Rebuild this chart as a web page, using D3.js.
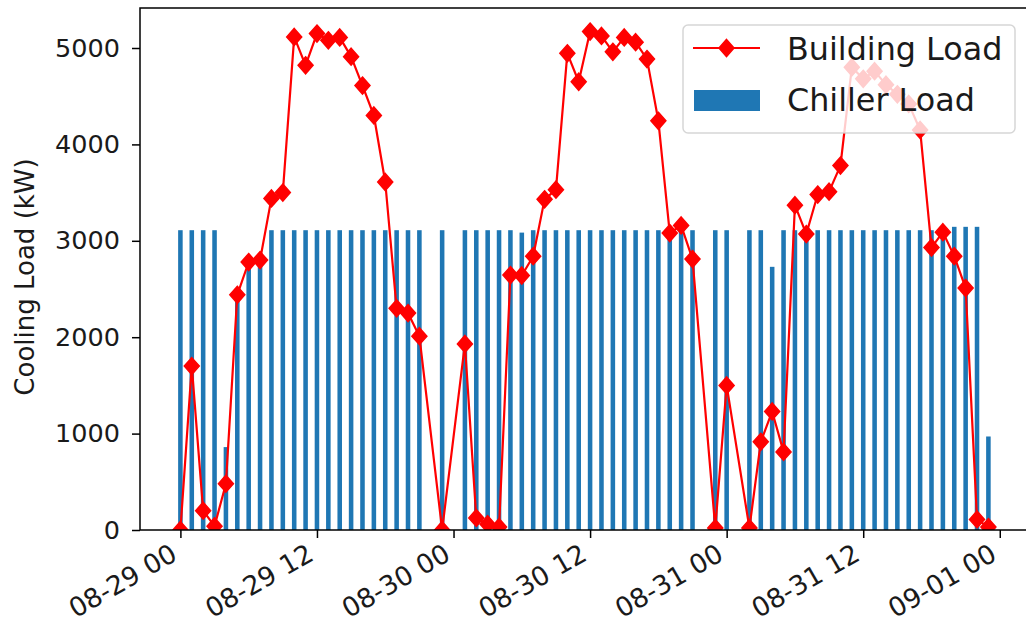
<!DOCTYPE html>
<html lang="en"><head>
<meta charset="utf-8">
<title>Cooling Load</title>
<script src="https://cdn.jsdelivr.net/npm/d3@7"></script>
<style>
body { margin: 0; background: #fff; }
text { font-family: "DejaVu Sans", sans-serif; }
</style>
</head>
<body>
<script>

var width = 1026;
var height = 629;

// first timestamp of the record; hours below are offsets from it
var startTime = "2019-08-29 00:00";

// hourly records (hours 22, 24, 46 and 49 are missing in the data)
var hours = [0, 1, 2, 3, 4, 5, 6, 7, 8, 9, 10, 11, 12, 13, 14, 15, 16, 17, 18, 19, 20, 21,
             23, 25, 26, 27, 28, 29, 30, 31, 32, 33, 34, 35, 36, 37, 38, 39, 40, 41, 42, 43, 44, 45,
             47, 48, 50, 51, 52, 53, 54, 55, 56, 57, 58, 59, 60, 61, 62, 63, 64, 65, 66, 67, 68, 69, 70, 71];

var buildingLoad = [0, 1700, 200, 40, 480, 2440, 2780, 2800, 3440, 3500, 5115, 4820, 5150, 5080, 5110, 4910, 4610, 4300, 3610, 2300, 2250, 2010,
                    0, 1930, 125, 60, 30, 2645, 2640, 2840, 3430, 3530, 4945, 4650, 5170, 5125, 4960, 5110, 5060, 4885, 4245, 3080, 3160, 2810,
                    20, 1500, 20, 915, 1230, 810, 3370, 3070, 3480, 3510, 3780, 4800, 4680, 4760, 4620, 4520, 4420, 4150, 2930, 3090, 2840, 2510, 110, 30];

var chillerLoad = [3110, 3110, 3110, 3110, 860, 2420, 2760, 2780, 3110, 3110, 3110, 3110, 3110, 3110, 3110, 3110, 3110, 3110, 3110, 3110, 3110, 3110,
                   3110, 3110, 3110, 3110, 3110, 3110, 3085, 3110, 3110, 3110, 3110, 3110, 3110, 3110, 3110, 3110, 3110, 3110, 3110, 3110, 3110, 3110,
                   3110, 3110, 3110, 3110, 2730, 3110, 3110, 3110, 3110, 3110, 3110, 3110, 3110, 3110, 3110, 3110, 3110, 3110, 3110, 3110, 3145, 3145, 3145, 970];

var yTicks = [0, 1000, 2000, 3000, 4000, 5000];
var seriesNames = ["Building Load", "Chiller Load"];

var lineColor = "#ff0000";
var barColor = "#1f77b4";
var textColor = "#1a1a1a";

var t0 = d3.timeParse("%Y-%m-%d %H:%M")(startTime);
var records = hours.map(function(h, i) {
  return {time: d3.timeHour.offset(t0, h), building: buildingLoad[i], chiller: chillerLoad[i]};
});

// plot area (matplotlib style margins)
var plotLeft = 140, plotRight = 1028.8, plotTop = 8, plotBottom = 530;

var first = records[0].time, last = records[records.length - 1].time;
var pad = (last - first) * 0.05;
var x = d3.scaleTime()
          .domain([new Date(+first - pad), new Date(+last + pad)])
          .range([plotLeft, plotRight]);

var y = d3.scaleLinear()
          .domain([0, 5415])
          .range([plotBottom, plotTop]);

var svg = d3.select("body").append("svg")
            .attr("width", width)
            .attr("height", height);

svg.append("defs").append("clipPath").attr("id", "plot")
   .append("rect").attr("x", plotLeft).attr("y", plotTop)
   .attr("width", plotRight - plotLeft).attr("height", plotBottom - plotTop);

var plot = svg.append("g").attr("clip-path", "url(#plot)");

var barW = x(d3.timeMinute.offset(t0, 24)) - x(t0);

plot.selectAll("rect.bar")
    .data(records).enter()
    .append("rect")
    .attr("class", "bar")
    .attr("x", function(d) { return x(d.time) - barW / 2; })
    .attr("width", barW)
    .attr("y", function(d) { return y(d.chiller); })
    .attr("height", function(d) { return y(0) - y(d.chiller); })
    .attr("fill", barColor);

var line = d3.line()
             .x(function(d) { return x(d.time); })
             .y(function(d) { return y(d.building); });

plot.append("path")
    .datum(records)
    .attr("d", line)
    .attr("fill", "none")
    .attr("stroke", lineColor)
    .attr("stroke-width", 2.2)
    .attr("stroke-linejoin", "round");

function diamond(cx, cy) {
  var w = 7.5, h = 8.5;
  return "M" + cx + "," + (cy - h) + "L" + (cx + w) + "," + cy + "L" + cx + "," + (cy + h) + "L" + (cx - w) + "," + cy + "Z";
}

plot.selectAll("path.marker")
    .data(records).enter()
    .append("path")
    .attr("class", "marker")
    .attr("d", function(d) { return diamond(x(d.time), y(d.building)); })
    .attr("fill", lineColor)
    .attr("stroke", lineColor)
    .attr("stroke-width", 1.5);

// axes
var xAxis = svg.append("g")
   .attr("transform", "translate(0," + plotBottom + ")")
   .call(d3.axisBottom(x)
           .ticks(d3.timeHour.every(12))
           .tickFormat(d3.timeFormat("%m-%d %H"))
           .tickSize(8)
           .tickSizeOuter(0));

xAxis.select(".domain").remove();
xAxis.selectAll(".tick line").attr("stroke", "#000").attr("stroke-width", 1.5);
xAxis.selectAll(".tick text")
     .attr("x", 0).attr("y", 0).attr("dy", 0)
     .attr("text-anchor", "end")
     .attr("transform", "translate(-2,29) rotate(-30)")
     .attr("font-size", 26.5)
     .attr("font-family", "DejaVu Sans")
     .attr("fill", textColor);

var yAxis = svg.append("g")
   .attr("transform", "translate(" + plotLeft + ",0)")
   .call(d3.axisLeft(y)
           .tickValues(yTicks)
           .tickFormat(d3.format("d"))
           .tickSize(8)
           .tickPadding(12)
           .tickSizeOuter(0));

yAxis.select(".domain").remove();
yAxis.selectAll(".tick line").attr("stroke", "#000").attr("stroke-width", 1.5);
yAxis.selectAll(".tick text")
     .attr("font-size", 25.5)
     .attr("font-family", "DejaVu Sans")
     .attr("fill", textColor);

// spines
svg.append("rect")
   .attr("x", plotLeft).attr("y", plotTop)
   .attr("width", plotRight - plotLeft).attr("height", plotBottom - plotTop)
   .attr("fill", "none")
   .attr("stroke", "#000")
   .attr("stroke-width", 1.5);

svg.append("text")
   .attr("transform", "translate(34,277) rotate(-90)")
   .attr("text-anchor", "middle")
   .attr("font-size", 26)
   .attr("fill", textColor)
   .text("Cooling Load (kW)");

// legend
var legend = svg.append("g");

legend.append("rect")
      .attr("x", 683).attr("y", 25)
      .attr("width", 332).attr("height", 108)
      .attr("rx", 5)
      .attr("fill", "#fff").attr("fill-opacity", 0.8)
      .attr("stroke", "#cccccc").attr("stroke-opacity", 0.8)
      .attr("stroke-width", 1.5);

legend.append("line")
      .attr("x1", 693).attr("x2", 760)
      .attr("y1", 48).attr("y2", 48)
      .attr("stroke", lineColor).attr("stroke-width", 2.2);

legend.append("path")
      .attr("d", diamond(726.5, 48))
      .attr("fill", lineColor)
      .attr("stroke", lineColor)
      .attr("stroke-width", 1.5);

legend.append("rect")
      .attr("x", 694).attr("y", 90)
      .attr("width", 66).attr("height", 21)
      .attr("fill", barColor);

legend.selectAll("text.label")
      .data(seriesNames).enter()
      .append("text")
      .attr("class", "label")
      .attr("x", 787)
      .attr("y", function(d, i) { return i === 0 ? 60 : 111; })
      .attr("font-size", 31.8)
      .attr("fill", textColor)
      .text(function(d) { return d; });

</script>
</body></html>
